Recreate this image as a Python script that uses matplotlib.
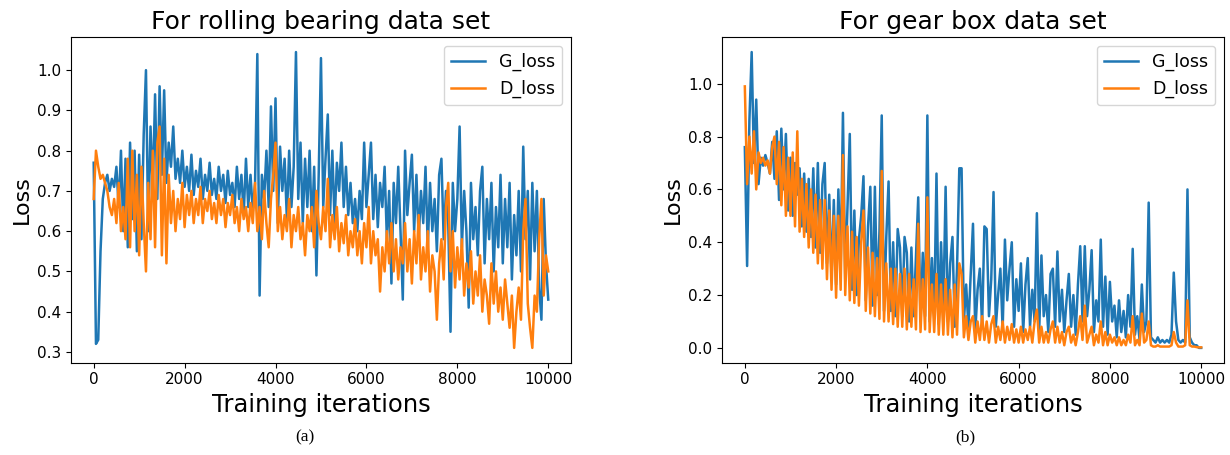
import numpy as np
import matplotlib
matplotlib.use('Agg')
import matplotlib.pyplot as plt

# rolling bearing data set, one value every 50 iterations
bearing_g = [0.77, 0.32, 0.33, 0.55, 0.68, 0.72, 0.74, 0.70, 0.73, 0.71,
             0.76, 0.66, 0.80, 0.60, 0.78, 0.56, 0.82, 0.63, 0.80, 0.55,
             0.79, 0.58, 0.84, 1.00, 0.60, 0.86, 0.70, 0.94, 0.68, 0.96,
             0.74, 0.95, 0.72, 0.82, 0.76, 0.86, 0.73, 0.78, 0.72, 0.80,
             0.71, 0.76, 0.70, 0.79, 0.69, 0.75, 0.71, 0.78, 0.68, 0.74,
             0.70, 0.77, 0.69, 0.73, 0.68, 0.76, 0.70, 0.74, 0.67, 0.75,
             0.69, 0.72, 0.66, 0.76, 0.68, 0.74, 0.64, 0.78, 0.66, 0.74,
             0.65, 0.72, 1.04, 0.44, 0.74, 0.68, 0.80, 0.66, 0.91, 0.70,
             0.93, 0.62, 0.81, 0.70, 0.78, 0.63, 0.80, 0.66, 0.76, 1.045,
             0.68, 0.82, 0.62, 0.78, 0.66, 0.80, 0.60, 0.76, 0.49, 0.74,
             1.03, 0.66, 0.78, 0.89, 0.64, 0.80, 0.62, 0.77, 0.70, 0.82,
             0.66, 0.76, 0.64, 0.72, 0.62, 0.68, 0.60, 0.70, 0.63, 0.82,
             0.66, 0.74, 0.82, 0.63, 0.74, 0.61, 0.72, 0.66, 0.76, 0.58,
             0.70, 0.47, 0.72, 0.62, 0.76, 0.60, 0.43, 0.80, 0.64, 0.72,
             0.79, 0.60, 0.74, 0.58, 0.70, 0.62, 0.76, 0.56, 0.72, 0.60,
             0.68, 0.55, 0.74, 0.78, 0.58, 0.70, 0.62, 0.35, 0.72, 0.60,
             0.68, 0.86, 0.56, 0.70, 0.60, 0.41, 0.72, 0.58, 0.66, 0.54,
             0.70, 0.76, 0.52, 0.68, 0.58, 0.72, 0.50, 0.66, 0.56, 0.74,
             0.52, 0.68, 0.56, 0.72, 0.48, 0.64, 0.54, 0.70, 0.50, 0.81,
             0.58, 0.70, 0.48, 0.72, 0.55, 0.70, 0.46, 0.38, 0.68, 0.52,
             0.43]
bearing_d = [0.68, 0.80, 0.76, 0.73, 0.74, 0.72, 0.70, 0.66, 0.64, 0.68,
             0.62, 0.72, 0.60, 0.66, 0.58, 0.78, 0.56, 0.80, 0.60, 0.74,
             0.54, 0.76, 0.62, 0.50, 0.72, 0.58, 0.80, 0.56, 0.82, 0.86,
             0.54, 0.78, 0.52, 0.74, 0.62, 0.70, 0.60, 0.68, 0.63, 0.72,
             0.61, 0.69, 0.64, 0.70, 0.62, 0.68, 0.64, 0.71, 0.62, 0.68,
             0.65, 0.70, 0.63, 0.67, 0.62, 0.69, 0.64, 0.68, 0.61, 0.67,
             0.64, 0.69, 0.62, 0.66, 0.60, 0.68, 0.63, 0.66, 0.60, 0.67,
             0.62, 0.72, 0.60, 0.66, 0.58, 0.70, 0.62, 0.56, 0.68, 0.74,
             0.82, 0.60, 0.66, 0.58, 0.64, 0.60, 0.68, 0.56, 0.64, 0.60,
             0.66, 0.58, 0.62, 0.54, 0.64, 0.60, 0.66, 0.56, 0.70, 0.62,
             0.58, 0.66, 0.60, 0.73, 0.56, 0.64, 0.58, 0.66, 0.55, 0.62,
             0.57, 0.64, 0.54, 0.60, 0.56, 0.63, 0.54, 0.60, 0.52, 0.62,
             0.56, 0.66, 0.52, 0.60, 0.54, 0.58, 0.45, 0.56, 0.50, 0.60,
             0.52, 0.62, 0.50, 0.58, 0.48, 0.56, 0.52, 0.62, 0.50, 0.58,
             0.47, 0.60, 0.52, 0.64, 0.48, 0.56, 0.50, 0.60, 0.45, 0.54,
             0.50, 0.38, 0.52, 0.58, 0.48, 0.66, 0.72, 0.50, 0.60, 0.46,
             0.56, 0.48, 0.58, 0.44, 0.52, 0.46, 0.55, 0.42, 0.50, 0.44,
             0.54, 0.40, 0.48, 0.44, 0.37, 0.52, 0.42, 0.50, 0.40, 0.46,
             0.38, 0.48, 0.42, 0.36, 0.44, 0.31, 0.40, 0.46, 0.38, 0.60,
             0.68, 0.42, 0.36, 0.31, 0.44, 0.40, 0.58, 0.68, 0.44, 0.54,
             0.50]

# gear box data set, one value every 50 iterations
gear_g = [0.76, 0.31, 0.86, 1.12, 0.70, 0.94, 0.62, 0.72, 0.69, 0.73,
          0.70, 0.66, 0.78, 0.64, 0.82, 0.56, 0.83, 0.60, 0.81, 0.52,
          0.72, 0.50, 0.70, 0.58, 0.68, 0.46, 0.66, 0.44, 0.64, 0.42,
          0.68, 0.38, 0.70, 0.36, 0.62, 0.70, 0.32, 0.58, 0.26, 0.56,
          0.24, 0.60, 0.30, 0.89, 0.26, 0.54, 0.81, 0.22, 0.52, 0.20,
          0.41, 0.50, 0.65, 0.18, 0.46, 0.61, 0.16, 0.61, 0.20, 0.44,
          0.88, 0.14, 0.42, 0.63, 0.14, 0.40, 0.12, 0.45, 0.38, 0.12,
          0.42, 0.36, 0.10, 0.38, 0.12, 0.34, 0.57, 0.10, 0.36, 0.12,
          0.88, 0.10, 0.34, 0.12, 0.66, 0.09, 0.40, 0.14, 0.61, 0.10,
          0.32, 0.42, 0.08, 0.30, 0.68, 0.68, 0.10, 0.24, 0.08, 0.28,
          0.47, 0.06, 0.22, 0.30, 0.08, 0.46, 0.45, 0.12, 0.26, 0.59,
          0.08, 0.20, 0.30, 0.07, 0.41, 0.18, 0.30, 0.40, 0.08, 0.26,
          0.14, 0.32, 0.06, 0.24, 0.34, 0.08, 0.22, 0.10, 0.51, 0.06,
          0.35, 0.12, 0.20, 0.06, 0.28, 0.30, 0.08, 0.365, 0.10, 0.22,
          0.06, 0.18, 0.28, 0.08, 0.20, 0.05, 0.24, 0.385, 0.10, 0.385,
          0.12, 0.22, 0.37, 0.06, 0.18, 0.10, 0.41, 0.08, 0.27, 0.05,
          0.25, 0.10, 0.16, 0.04, 0.18, 0.06, 0.14, 0.04, 0.20, 0.08,
          0.375, 0.05, 0.12, 0.03, 0.24, 0.06, 0.10, 0.55, 0.04, 0.03,
          0.02, 0.04, 0.02, 0.03, 0.02, 0.03, 0.02, 0.05, 0.285, 0.10,
          0.03, 0.02, 0.03, 0.02, 0.60, 0.04, 0.02, 0.01, 0.01, 0.0,
          0.0]
gear_d = [0.99, 0.62, 0.80, 0.66, 0.82, 0.60, 0.74, 0.70, 0.72, 0.69,
          0.71, 0.66, 0.76, 0.80, 0.62, 0.78, 0.54, 0.76, 0.50, 0.72,
          0.50, 0.74, 0.46, 0.82, 0.44, 0.64, 0.42, 0.62, 0.38, 0.60,
          0.36, 0.58, 0.32, 0.56, 0.30, 0.56, 0.26, 0.52, 0.22, 0.50,
          0.19, 0.50, 0.22, 0.73, 0.20, 0.46, 0.18, 0.44, 0.17, 0.42,
          0.16, 0.40, 0.52, 0.14, 0.38, 0.13, 0.36, 0.12, 0.34, 0.11,
          0.67, 0.10, 0.32, 0.10, 0.30, 0.09, 0.30, 0.08, 0.28, 0.08,
          0.30, 0.07, 0.28, 0.08, 0.26, 0.07, 0.47, 0.06, 0.26, 0.07,
          0.57, 0.06, 0.24, 0.06, 0.28, 0.05, 0.24, 0.05, 0.26, 0.05,
          0.22, 0.04, 0.24, 0.05, 0.32, 0.28, 0.04, 0.12, 0.03, 0.10,
          0.12, 0.02, 0.10, 0.03, 0.12, 0.03, 0.10, 0.02, 0.09, 0.12,
          0.02, 0.08, 0.03, 0.10, 0.02, 0.08, 0.03, 0.09, 0.02, 0.07,
          0.02, 0.08, 0.02, 0.07, 0.03, 0.08, 0.02, 0.10, 0.145, 0.02,
          0.08, 0.02, 0.06, 0.02, 0.07, 0.10, 0.02, 0.08, 0.02, 0.06,
          0.01, 0.06, 0.08, 0.02, 0.05, 0.01, 0.06, 0.12, 0.03, 0.16,
          0.02, 0.05, 0.08, 0.01, 0.05, 0.02, 0.10, 0.01, 0.06, 0.01,
          0.05, 0.02, 0.04, 0.01, 0.04, 0.01, 0.03, 0.01, 0.05, 0.02,
          0.12, 0.01, 0.03, 0.01, 0.13, 0.02, 0.03, 0.10, 0.01, 0.005,
          0.005, 0.01, 0.005, 0.005, 0.005, 0.005, 0.005, 0.01, 0.06, 0.02,
          0.005, 0.005, 0.005, 0.01, 0.18, 0.01, 0.005, 0.005, 0.003, 0.002,
          0.002]

titles = ['For rolling bearing data set', 'For gear box data set']
captions = ['(a)', '(b)']

fig = plt.figure(figsize=(12.3, 4.55), dpi=100)
ax1 = fig.add_axes([0.0577, 0.2029, 0.4065, 0.7152])
ax2 = fig.add_axes([0.587, 0.2029, 0.4081, 0.7152])

panels = [(ax1, bearing_g, bearing_d), (ax2, gear_g, gear_d)]
for i, (ax, g, d) in enumerate(panels):
    xg = np.linspace(0, 10000, len(g))
    xd = np.linspace(0, 10000, len(d))
    ax.plot(xg, g, color='#1f77b4', lw=1.8, label='G_loss')
    ax.plot(xd, d, color='#ff7f0e', lw=1.8, label='D_loss')
    ax.set_title(titles[i], fontsize=18)
    ax.set_xlabel('Training iterations', fontsize=17.5)
    ax.set_ylabel('Loss', fontsize=16)
    ax.set_xticks([0, 2000, 4000, 6000, 8000, 10000])
    ax.tick_params(labelsize=11)
    ax.legend(loc='upper right', fontsize=12.5)

ax1.set_yticks([0.3, 0.4, 0.5, 0.6, 0.7, 0.8, 0.9, 1.0])
ax2.set_yticks([0.0, 0.2, 0.4, 0.6, 0.8, 1.0])

fig.text(0.248, 0.03, captions[0], fontsize=12.5, family='Liberation Serif', ha='center')
fig.text(0.785, 0.03, captions[1], fontsize=12.5, family='Liberation Serif', ha='center')

fig.savefig('out.png', dpi=100)
